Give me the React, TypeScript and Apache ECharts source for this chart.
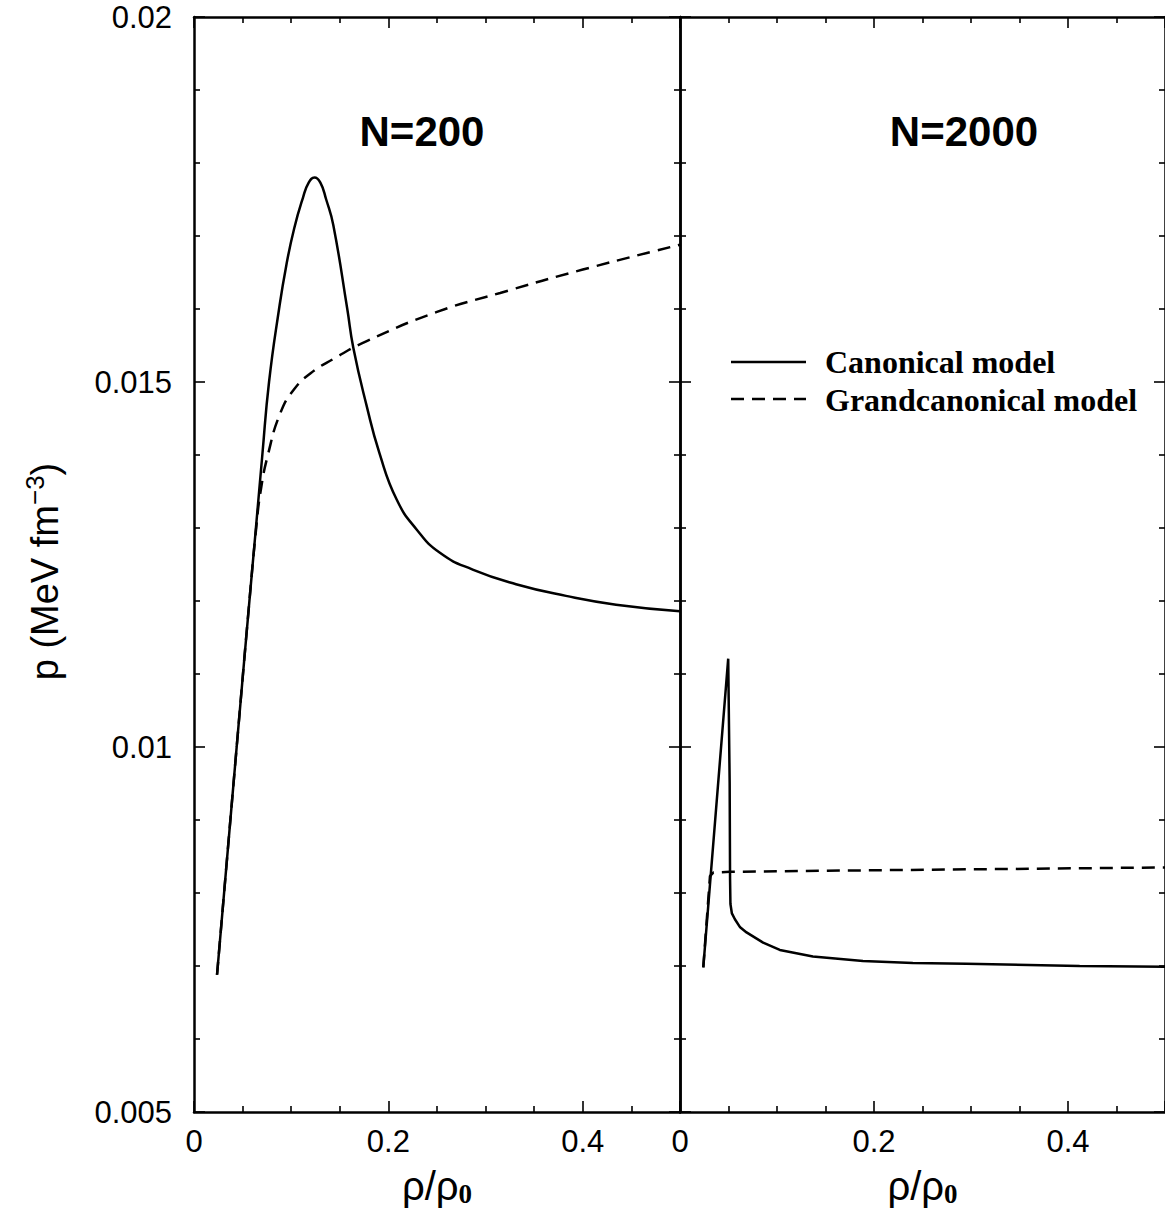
import React, { useEffect, useRef } from 'react';
import * as echarts from 'echarts';

// ---- data (x = rho/rho0, y = p in MeV fm^-3) ----
const panelTitles = ['N=200', 'N=2000'];
const seriesNames = ['Canonical model', 'Grandcanonical model'];

const canonical200: [number, number][] = [
  [0.0237, 0.00688], [0.0439, 0.01], [0.057, 0.012], [0.0637, 0.013], [0.0703, 0.014],
  [0.0772, 0.015], [0.0875, 0.016], [0.095, 0.0166], [0.103, 0.0171], [0.112, 0.01752],
  [0.118, 0.01773], [0.124, 0.0178], [0.13, 0.01773], [0.136, 0.0175], [0.1433, 0.01715],
  [0.1577, 0.016], [0.1639, 0.01547], [0.1777, 0.01467], [0.1907, 0.01403], [0.2085, 0.01339],
  [0.229, 0.01298], [0.253, 0.01266], [0.2867, 0.01243], [0.3313, 0.01223], [0.3827, 0.01207],
  [0.4342, 0.01195], [0.5, 0.01186],
];

const grand200: [number, number][] = [
  [0.0237, 0.00688], [0.0439, 0.01], [0.057, 0.012], [0.064, 0.013], [0.0685, 0.0135],
  [0.076, 0.014], [0.089, 0.01458], [0.103, 0.0149], [0.12, 0.01512], [0.144, 0.01532],
  [0.1777, 0.01556], [0.25, 0.01596], [0.315, 0.01622], [0.4, 0.01654], [0.5, 0.01688],
];

const canonical2000: [number, number][] = [
  [0.024, 0.00698], [0.0497, 0.01121], [0.0512, 0.0095], [0.0516, 0.0082], [0.052, 0.00785],
  [0.0535, 0.00772], [0.0566, 0.00764], [0.062, 0.00753], [0.0686, 0.00746], [0.0857, 0.00732],
  [0.1029, 0.00722], [0.137, 0.00713], [0.1886, 0.00707], [0.24, 0.00704], [0.295, 0.00703],
  [0.412, 0.007], [0.5, 0.00699],
];

const grand2000: [number, number][] = [
  [0.024, 0.00698], [0.0309, 0.00823], [0.0343, 0.00828], [0.0514, 0.00829], [0.1886, 0.00831],
  [0.343, 0.00833], [0.5, 0.00835],
];

const X_MIN = 0;
const X_MAX = 0.5;
const X_INTERVAL = 0.2;
const Y_MIN = 0.005;
const Y_MAX = 0.02;
const Y_INTERVAL = 0.005;

const BLACK = '#000';
const SANS = 'Liberation Sans';
const SERIF = 'Liberation Serif';

function xAxisDef(gridIndex: number, position: 'top' | 'bottom', withLabels: boolean) {
  return {
    type: 'value',
    gridIndex,
    position,
    min: X_MIN,
    max: X_MAX,
    interval: X_INTERVAL,
    axisLine: { show: true, onZero: false, lineStyle: { color: BLACK, width: 2.5 } },
    axisTick: { show: true, inside: true, length: 11, lineStyle: { color: BLACK, width: 1.6 } },
    minorTick: { show: true, splitNumber: 4, length: 6, lineStyle: { color: BLACK, width: 1.6 } },
    splitLine: { show: false },
    minorSplitLine: { show: false },
    axisLabel: {
      show: withLabels,
      showMaxLabel: false,
      margin: 14,
      color: BLACK,
      fontFamily: SANS,
      fontSize: 31,
    },
    name: withLabels ? '{a|ρ/ρ}{b|0}' : '',
    nameLocation: 'middle',
    nameGap: 52,
    nameTextStyle: {
      rich: {
        a: { fontFamily: SANS, fontSize: 40, color: BLACK },
        b: { fontFamily: SERIF, fontWeight: 'bold', fontSize: 27, color: BLACK, verticalAlign: 'bottom', padding: [16, 0, 0, 0] },
      },
    },
  };
}

function yAxisDef(gridIndex: number, position: 'left' | 'right', withLabels: boolean) {
  return {
    type: 'value',
    gridIndex,
    position,
    min: Y_MIN,
    max: Y_MAX,
    interval: Y_INTERVAL,
    axisLine: { show: true, onZero: false, lineStyle: { color: BLACK, width: 2.5 } },
    axisTick: { show: true, inside: true, length: 11, lineStyle: { color: BLACK, width: 1.6 } },
    minorTick: { show: true, splitNumber: 5, length: 6, lineStyle: { color: BLACK, width: 1.6 } },
    splitLine: { show: false },
    minorSplitLine: { show: false },
    axisLabel: {
      show: withLabels,
      margin: 22,
      color: BLACK,
      fontFamily: SANS,
      fontSize: 31,
    },
    name: withLabels ? '{n|p (MeV fm}{s|−3}{n|)}' : '',
    nameLocation: 'middle',
    nameGap: 126,
    nameTextStyle: {
      padding: [0, 14, 0, 0],
      rich: {
        n: { fontFamily: SANS, fontSize: 38, color: BLACK, lineHeight: 46 },
        s: { fontFamily: SANS, fontSize: 26, color: BLACK, verticalAlign: 'top', lineHeight: 26 },
      },
    },
  };
}

function lineSeries(name: string, data: [number, number][], axisIdx: number, dashed: boolean, smooth: number | boolean) {
  return {
    type: 'line',
    name,
    data,
    xAxisIndex: axisIdx,
    yAxisIndex: axisIdx,
    symbol: 'none',
    smooth,
    lineStyle: { color: BLACK, width: 2.5, type: dashed ? [13, 8] : 'solid' },
    itemStyle: { color: BLACK },
    z: 3,
  };
}

export default function App() {
  const ref = useRef<HTMLDivElement>(null);

  useEffect(() => {
    if (!ref.current) return;
    const chart = echarts.init(ref.current, undefined, { renderer: 'svg' });
    const option = {
      animation: false,
      backgroundColor: '#fff',
      grid: [
        { left: 194, top: 17, width: 486, height: 1096 },
        { left: 680, top: 17, width: 486, height: 1096 },
      ],
      xAxis: [
        xAxisDef(0, 'bottom', true),
        xAxisDef(0, 'top', false),
        xAxisDef(1, 'bottom', true),
        xAxisDef(1, 'top', false),
      ],
      yAxis: [
        yAxisDef(0, 'left', true),
        yAxisDef(0, 'right', false),
        yAxisDef(1, 'left', false),
        yAxisDef(1, 'right', false),
      ],
      series: [
        lineSeries(seriesNames[0], canonical200, 0, false, 0.5),
        lineSeries(seriesNames[1], grand200, 0, true, 0.5),
        lineSeries(seriesNames[0], canonical2000, 2, false, false),
        lineSeries(seriesNames[1], grand2000, 2, true, false),
      ],
      graphic: [
        {
          type: 'text', x: 422, y: 131,
          style: { text: panelTitles[0], font: `bold 42px "${SANS}"`, fill: BLACK, textAlign: 'center', textVerticalAlign: 'middle' },
        },
        {
          type: 'text', x: 964, y: 131,
          style: { text: panelTitles[1], font: `bold 42px "${SANS}"`, fill: BLACK, textAlign: 'center', textVerticalAlign: 'middle' },
        },
        {
          type: 'line', shape: { x1: 731, y1: 362, x2: 806, y2: 362 },
          style: { stroke: BLACK, lineWidth: 2.5 },
        },
        {
          type: 'text', x: 825, y: 362,
          style: { text: seriesNames[0], font: `bold 32px "${SERIF}"`, fill: BLACK, textAlign: 'left', textVerticalAlign: 'middle' },
        },
        {
          type: 'line', shape: { x1: 731, y1: 399, x2: 806, y2: 399 },
          style: { stroke: BLACK, lineWidth: 2.5, lineDash: [13, 8] },
        },
        {
          type: 'text', x: 825, y: 400,
          style: { text: seriesNames[1], font: `bold 32px "${SERIF}"`, fill: BLACK, textAlign: 'left', textVerticalAlign: 'middle' },
        },
      ],
    };
    chart.setOption(option as any);
    return () => chart.dispose();
  }, []);

  return (
    <div
      ref={ref}
      style={{ position: 'absolute', left: 0, top: 0, width: 1165, height: 1212, background: '#fff' }}
    />
  );
}
